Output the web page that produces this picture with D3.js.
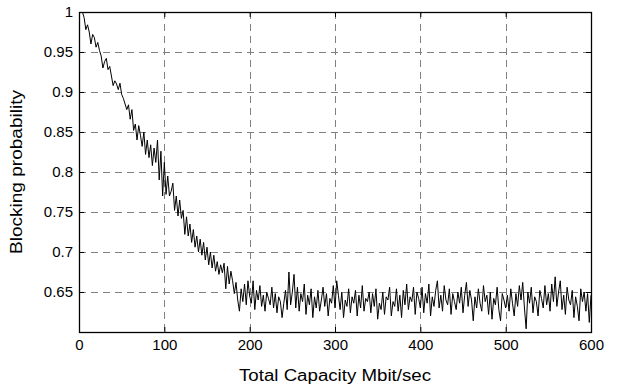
<!DOCTYPE html>
<html>
<head>
<meta charset="utf-8">
<script src="https://cdn.jsdelivr.net/npm/d3@7"></script>
<style>
  body { margin: 0; background: #fff; }
  text { font-family: "Liberation Sans", Arial, sans-serif; fill: #000; }
</style>
</head>
<body>
<div id="chart"></div>
<script>
// capacity sampled every 2 Mbit/sec starting at 4
var capacityStart = 4, capacityStep = 2;

// blocking probability
var blockingDecay = [
  1.000, 0.993, 0.978, 0.984, 0.975, 0.960, 0.972, 0.968, 0.956, 0.962,
  0.952, 0.945, 0.930, 0.938, 0.942, 0.928, 0.932, 0.920, 0.908, 0.914,
  0.910, 0.903, 0.911, 0.897, 0.892, 0.885, 0.878, 0.884, 0.866, 0.878,
  0.852, 0.860, 0.840, 0.858, 0.846, 0.832, 0.850, 0.822, 0.840, 0.818,
  0.834, 0.808, 0.830, 0.812, 0.840, 0.790, 0.826, 0.770, 0.812, 0.772,
  0.795, 0.770, 0.776, 0.786, 0.752, 0.770, 0.745, 0.765, 0.742, 0.752,
  0.722, 0.744, 0.720, 0.735, 0.712, 0.728, 0.706, 0.720, 0.700, 0.716,
  0.696, 0.712, 0.690, 0.706, 0.684, 0.700, 0.680, 0.696, 0.676, 0.688,
  0.672, 0.684, 0.674, 0.686, 0.654, 0.682, 0.660, 0.676, 0.664, 0.648,
  0.662, 0.640, 0.626, 0.654, 0.638, 0.660, 0.634, 0.664, 0.645
];
var blockingFlat = [
  0.636, 0.664, 0.628, 0.652, 0.640, 0.658, 0.632, 0.646, 0.626, 0.650,
  0.642, 0.634, 0.656, 0.630, 0.648, 0.624, 0.644, 0.638, 0.618, 0.636,
  0.652, 0.628, 0.675, 0.634, 0.650, 0.672, 0.630, 0.656, 0.626, 0.648,
  0.638, 0.660, 0.622, 0.646, 0.634, 0.654, 0.618, 0.644, 0.630, 0.652,
  0.626, 0.640, 0.656, 0.632, 0.648, 0.620, 0.642, 0.636, 0.658, 0.630,
  0.664, 0.646, 0.628, 0.650, 0.618, 0.640, 0.632, 0.654, 0.624, 0.644,
  0.636, 0.652, 0.620, 0.646, 0.630, 0.658, 0.626, 0.642, 0.638, 0.650,
  0.624, 0.648, 0.632, 0.654, 0.616, 0.636, 0.628, 0.650, 0.622, 0.644,
  0.640, 0.656, 0.620, 0.638, 0.632, 0.654, 0.626, 0.646, 0.618, 0.652,
  0.634, 0.660, 0.628, 0.644, 0.638, 0.656, 0.622, 0.650, 0.642, 0.630,
  0.656, 0.624, 0.648, 0.636, 0.660, 0.620, 0.644, 0.632, 0.652, 0.664,
  0.630, 0.646, 0.626, 0.658, 0.640, 0.634, 0.654, 0.622, 0.648, 0.638,
  0.628, 0.650, 0.636, 0.656, 0.624, 0.646, 0.662, 0.632, 0.652, 0.640,
  0.614, 0.644, 0.630, 0.654, 0.636, 0.626, 0.658, 0.638, 0.646, 0.622,
  0.650, 0.616, 0.642, 0.634, 0.656, 0.628, 0.614, 0.648, 0.640, 0.630,
  0.646, 0.626, 0.654, 0.636, 0.620, 0.648, 0.632, 0.658, 0.640, 0.662,
  0.630, 0.604, 0.650, 0.636, 0.656, 0.624, 0.644, 0.638, 0.620, 0.652,
  0.642, 0.630, 0.658, 0.634, 0.648, 0.626, 0.660, 0.638, 0.669, 0.632,
  0.650, 0.664, 0.628, 0.646, 0.622, 0.656, 0.640, 0.634, 0.652, 0.618,
  0.644, 0.632, 0.614, 0.654, 0.638, 0.650, 0.626, 0.648, 0.612, 0.646
];
var xTicks = [0, 100, 200, 300, 400, 500, 600];
var yTicks = [0.65, 0.7, 0.75, 0.8, 0.85, 0.9, 0.95, 1];

var blocking = blockingDecay.concat(blockingFlat);
var data = blocking.map(function (v, i) {
    return { cap: capacityStart + i * capacityStep, p: v };
});

var W = 627, H = 392;
var m = { l: 79, r: 591, t: 12, b: 332 };

var svg = d3.select("#chart").append("svg")
    .attr("width", W).attr("height", H);
svg.append("rect").attr("width", W).attr("height", H).attr("fill", "#fff");

var x = d3.scaleLinear().domain([0, 600]).range([m.l, m.r]);
var y = d3.scaleLinear().domain([0.6, 1]).range([m.b, m.t]);

// dashed grid
var grid = svg.append("g")
    .attr("stroke", "#808080").attr("stroke-dasharray", "7,5").attr("stroke-width", 1);
grid.selectAll(".gx").data(xTicks.filter(function (t) { return t > 0 && t < 600; }))
    .enter().append("line")
    .attr("x1", function (d) { return Math.round(x(d)) + 0.5; })
    .attr("x2", function (d) { return Math.round(x(d)) + 0.5; })
    .attr("y1", m.t).attr("y2", m.b);
grid.selectAll(".gy").data(yTicks.filter(function (t) { return t < 1; }))
    .enter().append("line")
    .attr("y1", function (d) { return Math.round(y(d)) + 0.5; })
    .attr("y2", function (d) { return Math.round(y(d)) + 0.5; })
    .attr("x1", m.l).attr("x2", m.r);

// data line
var line = d3.line()
    .x(function (d) { return x(d.cap); })
    .y(function (d) { return y(d.p); });
svg.append("path").datum(data)
    .attr("d", line)
    .attr("fill", "none").attr("stroke", "#000").attr("stroke-width", 1);

// axes, ticks pointing inward on all four sides
var fmt = function (d) { return String(+d.toFixed(2)); };
function noDomain(g) { g.select(".domain").remove(); }
svg.append("g").attr("transform", "translate(0," + m.b + ")")
    .call(d3.axisBottom(x).tickValues(xTicks).tickSizeInner(-5).tickSizeOuter(0).tickPadding(7))
    .call(noDomain);
svg.append("g").attr("transform", "translate(0," + m.t + ")")
    .call(d3.axisTop(x).tickValues(xTicks).tickSizeInner(-5).tickSizeOuter(0).tickFormat(""))
    .call(noDomain);
svg.append("g").attr("transform", "translate(" + m.l + ",0)")
    .call(d3.axisLeft(y).tickValues(yTicks).tickSizeInner(-5).tickSizeOuter(0).tickPadding(6).tickFormat(fmt))
    .call(noDomain);
svg.append("g").attr("transform", "translate(" + m.r + ",0)")
    .call(d3.axisRight(y).tickValues(yTicks).tickSizeInner(-5).tickSizeOuter(0).tickFormat(""))
    .call(noDomain);

svg.selectAll(".tick text").attr("font-size", 15).attr("font-family", "Liberation Sans, Arial, sans-serif");
svg.selectAll(".tick line").attr("stroke", "#000");

svg.append("rect")
    .attr("x", m.l + 0.5).attr("y", m.t + 0.5)
    .attr("width", m.r - m.l).attr("height", m.b - m.t)
    .attr("fill", "none").attr("stroke", "#000").attr("stroke-width", 1.3);

// axis titles
svg.append("text")
    .attr("x", (m.l + m.r) / 2).attr("y", 381)
    .attr("text-anchor", "middle").attr("font-size", 16)
    .attr("textLength", 192).attr("lengthAdjust", "spacingAndGlyphs")
    .text("Total Capacity Mbit/sec");
svg.append("text")
    .attr("transform", "translate(22," + (m.t + m.b) / 2 + ") rotate(-90)")
    .attr("text-anchor", "middle").attr("font-size", 16)
    .attr("textLength", 164).attr("lengthAdjust", "spacingAndGlyphs")
    .text("Blocking probability");
</script>
</body>
</html>
